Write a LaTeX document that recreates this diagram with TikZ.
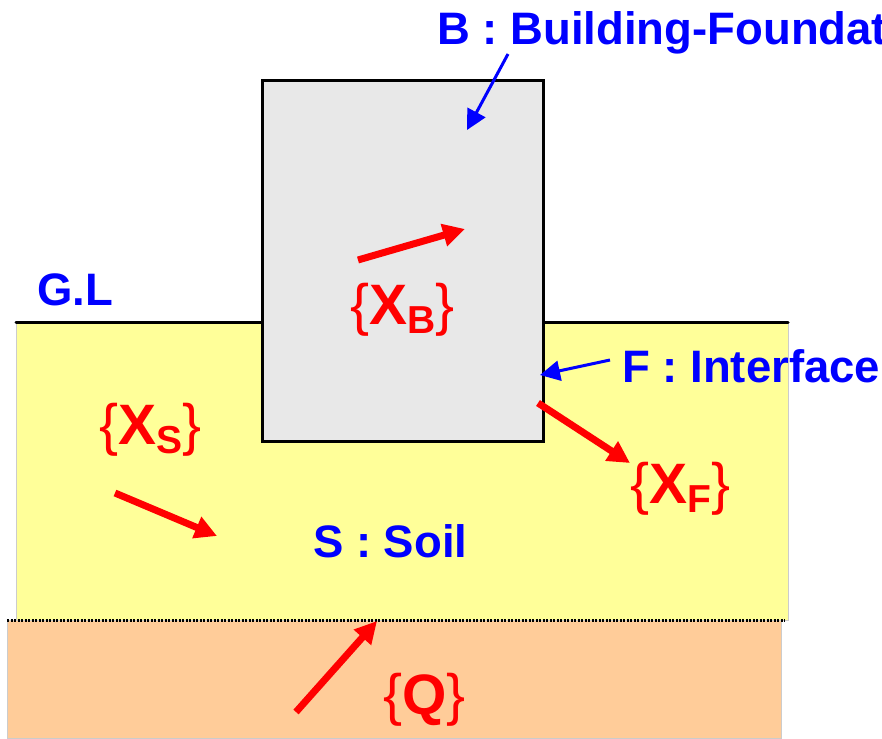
\documentclass[tikz,border=0pt]{standalone}
\usepackage{fontspec}
\setmainfont{Liberation Sans}
\usetikzlibrary{arrows.meta,positioning}
\definecolor{soil}{HTML}{FFFF99}
\definecolor{base}{HTML}{FFCC99}
\definecolor{bldg}{HTML}{E8E8E8}
\definecolor{tagblue}{HTML}{0000FF}
\definecolor{dofred}{HTML}{FF0000}
\tikzset{
  gline/.style={line width=3pt, color=black, line cap=round},
  tag/.style={text=tagblue, font=\bfseries\fontsize{45.5}{45.5}\selectfont, inner sep=0pt, anchor=base west},
  dof/.style={text=dofred, font=\fontsize{57}{57}\selectfont, inner sep=0pt, anchor=base west},
  force/.style={-{Triangle[length=22pt,width=22pt]}, line width=7pt, color=dofred},
  pointer/.style={-{Triangle[length=20pt,width=20pt]}, line width=3pt, color=tagblue},
}
\newcommand{\dofvec}[1]{\{\textbf{X}\raisebox{-9pt}{\fontsize{39}{39}\selectfont\textbf{#1}}\}}

\begin{document}
\begin{tikzpicture}[x=1pt,y=-1pt]
  \useasboundingbox (0,0) rectangle (882,738);
  \clip (0,0) rectangle (882,738);
  % ground layers
  \fill[soil,draw=black!20,line width=0.6pt] (16,322) rectangle (788,620);
  \fill[base,draw=black!20,line width=0.6pt] (7,620) rectangle (781,738);
  \draw[line width=3pt,dash pattern=on 2pt off 1.5pt] (7,620) -- (785,620);
  \draw[gline] (16,322) -- (262,322);
  \draw[gline] (543,322) -- (788,322);
  % building
  \node[draw=black,fill=bldg,line width=3pt,minimum width=281pt,minimum height=360pt,inner sep=0pt] (house) at (402.5,261) {};
  % labels
  \node[tag] (gl) at (37,305) {G.L};
  \node[tag] (bname) at (437,45) {B : Building-Foundat};
  \node[tag] (fname) at (622,382) {F : Interface};
  \node[tag] (sname) at (313,557) {S : Soil};
  \node[dof] (xb) at (350,324) {\dofvec{B}};
  \node[dof] (xs) at (99,444) {\dofvec{S}};
  \node[dof] (xf) at (630,503) {\dofvec{F}};
  \node[dof] (q) at (383,714) {\{\textbf{Q}\}};
  % pointers
  \coordinate (bt) at (508,54);
  \coordinate (bh) at (467,130);
  \coordinate (ft) at (610,360);
  \coordinate (fh) at (540,375);
  \draw[pointer] (bt) -- (bh);
  \draw[pointer] (ft) -- (fh);
  % forces
  \coordinate (xbt) at (358,260);
  \coordinate (xbh) at (465,229);
  \coordinate (xst) at (115,493);
  \coordinate (xsh) at (217,536);
  \coordinate (xft) at (538,403);
  \coordinate (xfh) at (630,463);
  \coordinate (qt) at (296,712);
  \coordinate (qh) at (377,621);
  \foreach \t/\h in {xbt/xbh,xst/xsh,xft/xfh,qt/qh} \draw[force] (\t) -- (\h);
\end{tikzpicture}
\end{document}
